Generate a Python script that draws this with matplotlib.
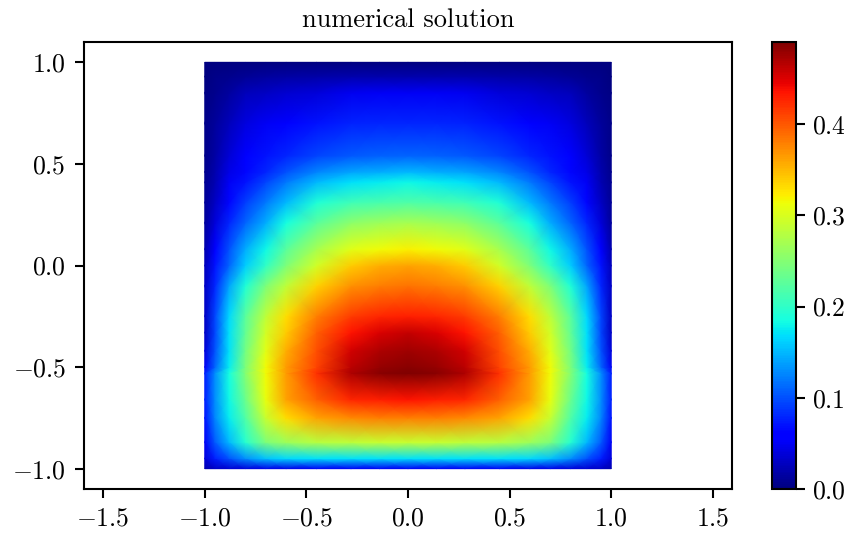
import numpy as np
import matplotlib
matplotlib.use("Agg")
import matplotlib.pyplot as plt

plt.rcParams['font.family'] = ['cmr10', 'DejaVu Serif']
plt.rcParams['mathtext.fontset'] = 'cm'
plt.rcParams['axes.formatter.use_mathtext'] = True

x_half = [0, .14, .28, .45, .6, .7, .8, .88, .95, 1.0]
y_values = [-1, -.95, -.87, -.75, -.66, -.53, -.5, -.42, -.33, -.25, -.1, 0, .08, .21, .31, .41, .46, .54, .7, .85, .93, 1]
u_half = [
 [.05, .05, .05, .05, .045, .045, .04, .035, .03, .02],
 [.17, .17, .17, .17, .165, .155, .13, .10, .075, .04],
 [.29, .29, .285, .28, .265, .245, .195, .15, .105, .05],
 [.38, .38, .375, .36, .33, .29, .22, .175, .125, .07],
 [.435, .43, .425, .395, .36, .31, .235, .18, .13, .075],
 [.49, .485, .47, .42, .365, .315, .25, .185, .13, .075],
 [.485, .48, .465, .41, .365, .315, .245, .175, .11, .05],
 [.475, .47, .455, .405, .355, .305, .24, .17, .10, .04],
 [.46, .45, .435, .395, .34, .295, .23, .17, .095, .03],
 [.43, .425, .415, .38, .33, .285, .225, .165, .095, .03],
 [.385, .38, .37, .335, .285, .245, .19, .14, .08, .03],
 [.36, .355, .34, .295, .245, .20, .16, .11, .07, .025],
 [.32, .315, .305, .27, .225, .18, .145, .10, .06, .02],
 [.27, .265, .255, .225, .185, .145, .11, .08, .04, .012],
 [.22, .215, .21, .19, .15, .12, .09, .065, .03, .01],
 [.18, .175, .17, .15, .12, .095, .07, .05, .022, .008],
 [.15, .145, .14, .125, .10, .08, .065, .045, .02, .006],
 [.11, .108, .105, .095, .08, .07, .058, .037, .017, .005],
 [.08, .08, .078, .07, .06, .05, .042, .025, .012, .004],
 [.05, .05, .048, .04, .035, .03, .025, .015, .007, .002],
 [.02, .02, .02, .018, .016, .014, .011, .007, .004, .001],
 [0, 0, 0, 0, 0, 0, 0, 0, 0, 0],
]
x_ticks = [-1.5, -1.0, -0.5, 0.0, 0.5, 1.0, 1.5]
y_ticks = [-1.0, -0.5, 0.0, 0.5, 1.0]
c_ticks = [0.0, 0.1, 0.2, 0.3, 0.4]
title = "numerical solution"

W, H = 852, 533
fig = plt.figure(figsize=(W/100, H/100), dpi=100)
ax = fig.add_axes([84/W, 1-489/H, (732-84)/W, (489-42)/H])
cax = fig.add_axes([772/W, 1-489/H, (796-772)/W, (489-42)/H])

xa = np.array(x_half)
ya = np.array(y_values)
ua = np.array(u_half)
X = np.concatenate([-xa[:0:-1], xa])
U = np.hstack([ua[:, :0:-1], ua])
m = ax.pcolormesh(X, ya, U, cmap='jet', shading='gouraud', vmin=0, vmax=0.49)
ax.set_xlim(-1.594, 1.594)
ax.set_ylim(-1.1, 1.1)

def fmt(v):
    return f"${v:.1f}$"

ax.set_xticks(x_ticks, [fmt(v) for v in x_ticks])
ax.set_yticks(y_ticks, [fmt(v) for v in y_ticks])
ax.tick_params(labelsize=18.5, length=6.5, width=1.5, pad=6.5)
for s in ax.spines.values():
    s.set_linewidth(1.5)
ax.set_title(title, fontsize=19, pad=11)

cb = fig.colorbar(m, cax=cax)
cb.set_ticks(c_ticks, labels=[fmt(v) for v in c_ticks])
cb.ax.tick_params(labelsize=18.5, length=6.5, width=1.5, pad=5)
cb.outline.set_linewidth(1.5)

fig.savefig("out.png", dpi=100)
